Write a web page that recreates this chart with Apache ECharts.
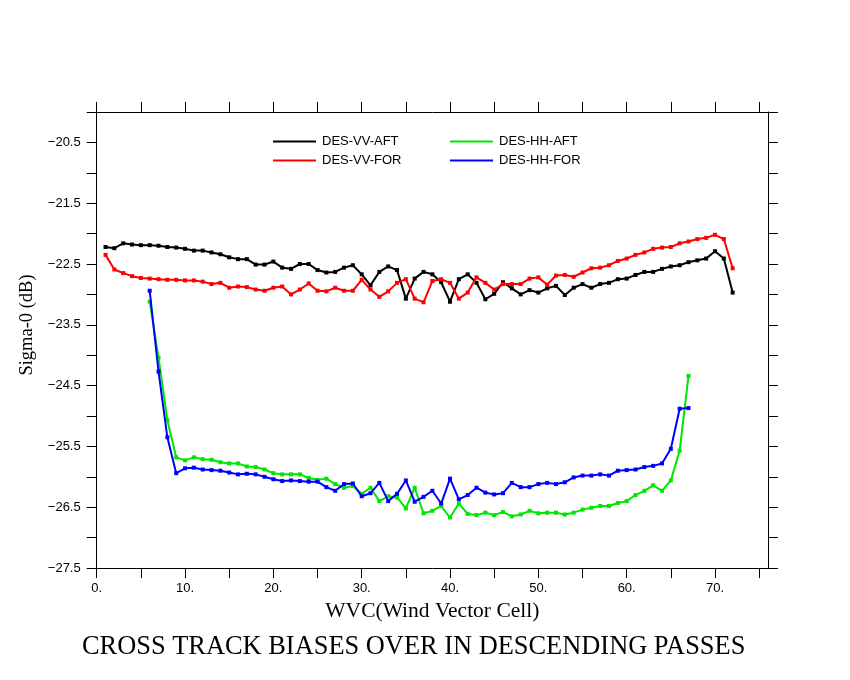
<!DOCTYPE html>
<html>
<head>
<meta charset="utf-8">
<script src="https://cdn.jsdelivr.net/npm/echarts@6/dist/echarts.min.js"></script>
<style>html,body{margin:0;padding:0;background:#fff;}#c{width:850px;height:680px;}</style>
</head>
<body>
<div id="c"></div>
<script>
// ---- data ----
var seriesNames = ['DES-VV-AFT', 'DES-VV-FOR', 'DES-HH-AFT', 'DES-HH-FOR'];
var vvStart = 1;   // first WVC of VV series
var hhStart = 6;   // first WVC of HH series
var vvAft = [-22.22,-22.24,-22.16,-22.18,-22.19,-22.19,-22.20,-22.22,-22.23,-22.25,
  -22.28,-22.28,-22.31,-22.34,-22.39,-22.42,-22.42,-22.51,-22.51,-22.46,
  -22.56,-22.58,-22.50,-22.50,-22.60,-22.64,-22.63,-22.56,-22.52,-22.67,
  -22.85,-22.63,-22.54,-22.60,-23.07,-22.74,-22.63,-22.67,-22.80,-23.12,
  -22.75,-22.67,-22.81,-23.08,-22.99,-22.80,-22.90,-23.00,-22.93,-22.97,
  -22.90,-22.86,-23.01,-22.89,-22.83,-22.89,-22.83,-22.81,-22.75,-22.74,
  -22.68,-22.63,-22.63,-22.58,-22.54,-22.52,-22.47,-22.44,-22.41,-22.29,
  -22.41,-22.97];
var vvFor = [-22.35,-22.59,-22.65,-22.70,-22.73,-22.74,-22.75,-22.76,-22.76,-22.77,
  -22.77,-22.79,-22.83,-22.81,-22.89,-22.87,-22.88,-22.92,-22.94,-22.89,
  -22.87,-23.00,-22.92,-22.82,-22.94,-22.95,-22.89,-22.94,-22.94,-22.76,
  -22.92,-23.04,-22.95,-22.81,-22.75,-23.07,-23.13,-22.78,-22.75,-22.81,
  -23.07,-22.97,-22.72,-22.81,-22.92,-22.83,-22.83,-22.83,-22.74,-22.72,
  -22.84,-22.69,-22.68,-22.71,-22.64,-22.57,-22.56,-22.52,-22.45,-22.41,
  -22.35,-22.31,-22.25,-22.23,-22.22,-22.16,-22.13,-22.09,-22.07,-22.02,
  -22.09,-22.57];
var hhAft = [-23.12,-24.04,-25.07,-25.68,-25.73,-25.68,-25.71,-25.72,-25.76,-25.78,
  -25.78,-25.83,-25.84,-25.88,-25.94,-25.96,-25.96,-25.96,-26.02,-26.05,
  -26.03,-26.12,-26.18,-26.15,-26.28,-26.18,-26.40,-26.32,-26.34,-26.52,
  -26.18,-26.60,-26.56,-26.48,-26.67,-26.44,-26.61,-26.63,-26.59,-26.63,
  -26.58,-26.65,-26.62,-26.56,-26.60,-26.59,-26.59,-26.62,-26.59,-26.54,
  -26.51,-26.48,-26.48,-26.43,-26.40,-26.30,-26.23,-26.14,-26.23,-26.06,
  -25.57,-24.34];
var hhFor = [-22.94,-24.27,-25.35,-25.94,-25.86,-25.85,-25.88,-25.89,-25.90,-25.93,
  -25.96,-25.95,-25.96,-26.00,-26.04,-26.07,-26.06,-26.07,-26.08,-26.08,
  -26.17,-26.23,-26.12,-26.11,-26.32,-26.27,-26.10,-26.40,-26.28,-26.06,
  -26.41,-26.33,-26.23,-26.44,-26.03,-26.37,-26.30,-26.18,-26.26,-26.29,
  -26.27,-26.10,-26.17,-26.17,-26.12,-26.10,-26.12,-26.09,-26.01,-25.98,
  -25.98,-25.96,-25.98,-25.90,-25.89,-25.88,-25.84,-25.82,-25.78,-25.54,
  -24.88,-24.87];
var xTickValues = [0,5,10,15,20,25,30,35,40,45,50,55,60,65,70,75];
var xLabelValues = [0,10,20,30,40,50,60,70];
var xTickLabels = ['0.','10.','20.','30.','40.','50.','60.','70.'];
var yLabelValues = [-20.5,-21.5,-22.5,-23.5,-24.5,-25.5,-26.5,-27.5];
var yTickLabels = ['\u221220.5','\u221221.5','\u221222.5','\u221223.5','\u221224.5','\u221225.5','\u221226.5','\u221227.5'];
var colors = ['#000000', '#ff0000', '#00e600', '#0000ff'];

function pairs(arr, start) {
  return arr.map(function (v, i) { return [start + i, v]; });
}

var chart = echarts.init(document.getElementById('c'), null, {renderer: 'canvas'});
var axisCommon = {
  axisLine: {show: true, onZero: false, lineStyle: {color: '#000', width: 1}},
  axisTick: {show: true, inside: false, length: 10, lineStyle: {color: '#000', width: 1}},
  splitLine: {show: false}
};
var labelFont = {color: '#000', fontFamily: 'Liberation Sans', fontSize: 13};

function xAxis(pos, showLabel) {
  return Object.assign({}, axisCommon, {
    type: 'value', position: pos, min: 0, max: 76, interval: 5,
    axisTick: Object.assign({}, axisCommon.axisTick, {customValues: xTickValues}),
    axisLabel: Object.assign({show: showLabel, margin: 14, customValues: xLabelValues,
      formatter: function (v) { var i = xLabelValues.indexOf(v); return i >= 0 ? xTickLabels[i] : ''; }}, labelFont),
    name: showLabel ? 'WVC(Wind Vector Cell)' : '',
    nameLocation: 'middle', nameGap: 30,
    nameTextStyle: {fontFamily: 'Liberation Serif', fontSize: 21.5, color: '#000'}
  });
}
function yAxis(pos, showLabel) {
  return Object.assign({}, axisCommon, {
    type: 'value', position: pos, min: -27.5, max: -20, interval: 0.5,
    axisLabel: Object.assign({show: showLabel, margin: 16,
      formatter: function (v) {
        for (var i = 0; i < yLabelValues.length; i++) {
          if (Math.abs(yLabelValues[i] - v) < 1e-6) return yTickLabels[i];
        }
        return '';
      }}, labelFont),
    name: showLabel ? 'Sigma-0 (dB)' : '',
    nameLocation: 'middle', nameGap: 60, nameRotate: 90,
    nameTextStyle: {fontFamily: 'Liberation Serif', fontSize: 18.5, color: '#000', padding: [0, 0, 0, 30]}
  });
}

var dataSets = [pairs(vvAft, vvStart), pairs(vvFor, vvStart), pairs(hhAft, hhStart), pairs(hhFor, hhStart)];
var series = dataSets.map(function (d, i) {
  return {
    name: seriesNames[i], type: 'line', data: d,
    xAxisIndex: 0, yAxisIndex: 0,
    symbol: 'rect', symbolSize: 4, showSymbol: true,
    lineStyle: {color: colors[i], width: 2},
    itemStyle: {color: colors[i]},
    animation: false, z: 3 + i
  };
});

var legendCommon = {
  orient: 'vertical', icon: 'rect', itemWidth: 43, itemHeight: 2, itemGap: 6, padding: 0,
  textStyle: {fontFamily: 'Liberation Sans', fontSize: 13, color: '#000', lineHeight: 13, padding: [0, 0, 0, 1]},
  selectedMode: false
};

chart.setOption({
  backgroundColor: '#fff',
  animation: false,
  color: colors,
  title: {
    text: 'CROSS TRACK BIASES OVER IN DESCENDING PASSES',
    left: 77, top: 629,
    textStyle: {fontFamily: 'Liberation Serif', fontWeight: 'normal', fontSize: 26.4, color: '#000'}
  },
  grid: {left: 96.7, right: 82, top: 112, bottom: 112, containLabel: false},
  xAxis: [xAxis('bottom', true), xAxis('top', false)],
  yAxis: [yAxis('left', true), yAxis('right', false)],
  legend: [
    Object.assign({data: [seriesNames[0], seriesNames[1]], left: 273, top: 135}, legendCommon),
    Object.assign({data: [seriesNames[2], seriesNames[3]], left: 450, top: 135}, legendCommon)
  ],
  series: series
});
</script>
</body>
</html>
